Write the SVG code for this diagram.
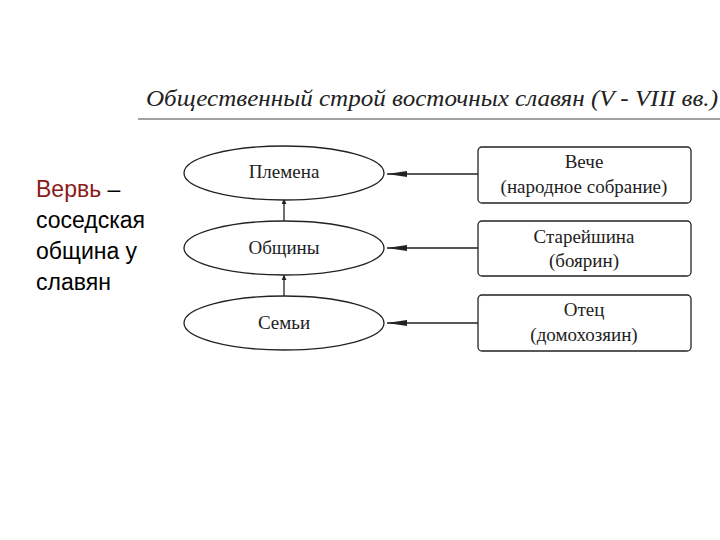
<svg xmlns="http://www.w3.org/2000/svg" width="720" height="540" viewBox="0 0 720 540">
<style>
.t{font-family:"Liberation Serif",serif;font-size:19px;fill:#222;text-anchor:middle}
.n{fill:#fff;stroke:#222;stroke-width:1.3}
.c{stroke:#222;stroke-width:1.3;fill:none}
.s{font-family:"Liberation Sans",sans-serif;font-size:23px;fill:#000}
</style>
<defs>
<marker id="v" viewBox="0 0 6 6" refX="6" refY="3" markerWidth="5" markerHeight="5" markerUnits="userSpaceOnUse" orient="auto"><path d="M0,0 L6,3 L0,6 Z" fill="#222"/></marker>
</defs>
<rect width="720" height="540" fill="#fff"/>
<text x="146" y="106" font-family="Liberation Serif,serif" font-style="italic" font-size="24" fill="#222" textLength="572" lengthAdjust="spacingAndGlyphs">Общественный строй восточных славян (V - VIII вв.)</text>
<line x1="138" y1="119" x2="720" y2="119" stroke="#444" stroke-width="1.2"/>
<text class="s"><tspan x="36" y="197" fill="#8b1a1a">Вервь</tspan><tspan> –</tspan><tspan x="36" y="228">соседская</tspan><tspan x="36" y="259">община у</tspan><tspan x="36" y="290">славян</tspan></text>
<g id="connectors">
<line class="c" x1="478" y1="174" x2="387" y2="174"/>
<line class="c" x1="478" y1="248" x2="387" y2="248"/>
<line class="c" x1="478" y1="323" x2="387" y2="323"/>
<path d="M387,174 L407,171 L407,177 Z M387,248 L407,245 L407,251 Z M387,323 L407,320 L407,326 Z" fill="#222"/>
<line class="c" x1="284" y1="222" x2="284" y2="199" marker-end="url(#v)"/>
<line class="c" x1="284" y1="296" x2="284" y2="275" marker-end="url(#v)"/>
</g>
<g id="plemena"><ellipse class="n" cx="284" cy="173" rx="100" ry="27"/><text class="t" x="284" y="178">Племена</text></g>
<g id="obshchiny"><ellipse class="n" cx="284" cy="248" rx="100" ry="27"/><text class="t" x="284" y="254">Общины</text></g>
<g id="semyi"><ellipse class="n" cx="284" cy="323" rx="100" ry="27"/><text class="t" x="284" y="329">Семьи</text></g>
<g id="veche"><rect class="n" x="478" y="147" width="213" height="56" rx="4"/><text class="t" x="584" y="168">Вече</text><text class="t" x="584" y="193">(народное собрание)</text></g>
<g id="stareishina"><rect class="n" x="478" y="221" width="213" height="55" rx="4"/><text class="t" x="584" y="243">Старейшина</text><text class="t" x="584" y="267">(боярин)</text></g>
<g id="otets"><rect class="n" x="478" y="295" width="213" height="56" rx="4"/><text class="t" x="584" y="316">Отец</text><text class="t" x="584" y="341">(домохозяин)</text></g>
</svg>
